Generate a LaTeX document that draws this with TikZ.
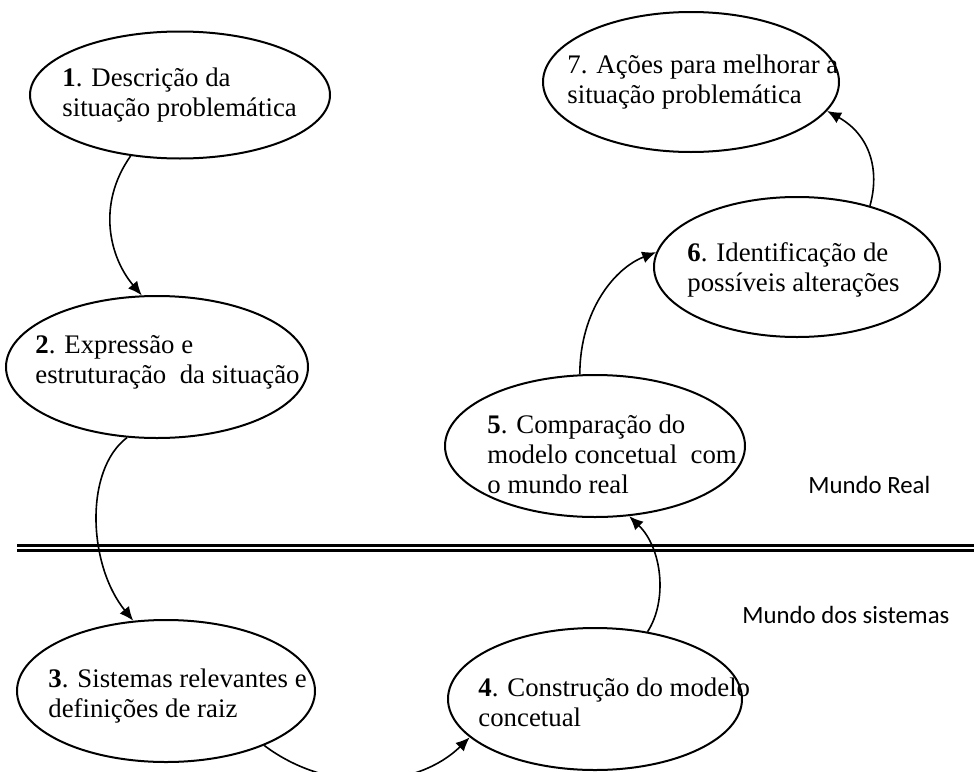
\documentclass[tikz,border=0pt]{standalone}
\usepackage{fontspec}
\setmainfont{Liberation Serif}
\newfontfamily\worldfont{Carlito}
\usetikzlibrary{arrows.meta,shapes.geometric}
\tikzset{
  stage/.style={draw, ellipse, line width=1pt, inner sep=0pt},
  stagetext/.style={anchor=west, align=left, inner sep=0pt,
    font=\fontsize{13.4}{15}\selectfont},
  flow/.style={-{Latex[length=7pt,width=6pt]}, line width=0.8pt},
  world/.style={anchor=west, inner sep=0pt, font=\worldfont\fontsize{12.4}{14}\selectfont},
  divider/.style={double, double distance=1.2pt, line width=1.3pt}
}

\begin{document}
\begin{tikzpicture}[x=0.5pt, y=-0.5pt]
  \useasboundingbox (0,0) rectangle (974,771);
  \node[stage, minimum width=150pt, minimum height=63.5pt] (descricao) at (180,95) {};
  \node[stagetext] (descricaolbl) at (62,95)
    {\textbf{1}. Descrição da\\situação problemática};
  \node[stage, minimum width=151pt, minimum height=71pt] (expressao) at (157,367) {};
  \node[stagetext] (expressaolbl) at (35,362)
    {\textbf{2}. Expressão e\\estruturação\ \ da situação};
  \node[stage, minimum width=149pt, minimum height=71pt] (relevantes) at (166,691) {};
  \node[stagetext] (relevanteslbl) at (48,696)
    {\textbf{3}. Sistemas relevantes e\\definições de raiz};
  \node[stage, minimum width=147pt, minimum height=71pt] (construcao) at (595,699) {};
  \node[stagetext] (construcaolbl) at (478,702)
    {\textbf{4}. Construção do modelo\\concetual};
  \node[stage, minimum width=150pt, minimum height=71pt] (comparacao) at (595,446) {};
  \node[stagetext] (comparacaolbl) at (487,454)
    {\textbf{5}. Comparação do\\modelo concetual\ \ com\\o mundo real};
  \node[stage, minimum width=143pt, minimum height=70pt] (alteracoes) at (797,267) {};
  \node[stagetext] (alteracoeslbl) at (687,270)
    {\textbf{6}. Identificação de\\possíveis alterações};
  \node[stage, minimum width=148pt, minimum height=70pt] (acoes) at (691,82) {};
  \node[stagetext] (acoeslbl) at (567,82)
    {7. Ações para melhorar a\\situação problemática};
  \node[world] (real) at (808,485) {Mundo Real};
  \node[world] (mundosis) at (742,615) {Mundo dos sistemas};
  \draw[divider] (17,548) -- (980,548);
  \draw[flow] (descricao.231) .. controls (96,205) and (110,258) .. (expressao.102);
  \draw[flow] (expressao.247) .. controls (84,470) and (88,565) .. (relevantes.115);
  \draw[flow] (relevantes.-29) .. controls (330,795) and (418,788) .. (construcao.197);
  \draw[flow] (construcao.52) .. controls (668,600) and (662,548) .. (comparacao.-64);
  \draw[flow] (comparacao.102) .. controls (580,310) and (615,268) .. (alteracoes.174);
  \draw[flow] (alteracoes.40) .. controls (880,170) and (870,135) .. (acoes.-12);
\end{tikzpicture}
\end{document}
